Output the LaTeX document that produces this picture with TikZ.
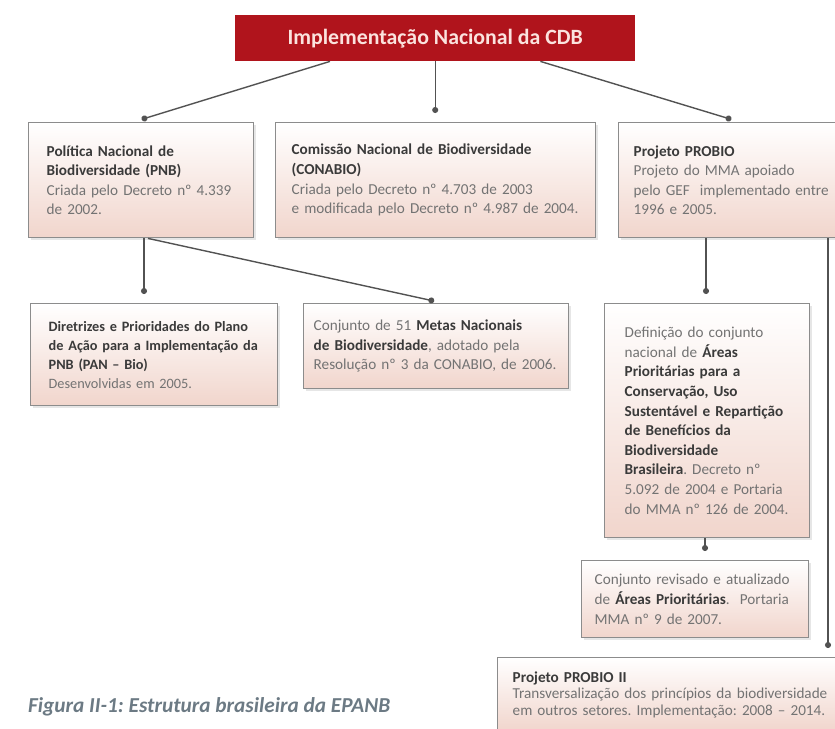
\documentclass[tikz,border=0pt]{standalone}
\usepackage{fontspec}
\setmainfont{Carlito}
\usetikzlibrary{arrows.meta, positioning, shadows}
\frenchspacing

\definecolor{cdbred}{HTML}{B0141C}
\definecolor{cdbtext}{HTML}{FBE3DE}
\definecolor{boxpink}{HTML}{F1D5CC}
\definecolor{boxline}{HTML}{8C8C8C}
\definecolor{txtdark}{HTML}{3A3A3A}
\definecolor{txtgray}{HTML}{737373}
\definecolor{capgray}{HTML}{6C7A84}
\newcommand{\hd}[1]{\textbf{\color{txtdark}#1}}

\begin{document}
\begin{tikzpicture}[x=1pt, y=-1pt,
    infobox/.style 2 args={draw=boxline, line width=1.4pt, anchor=north west,
        top color=white, middle color=white, bottom color=boxpink,
        align=left, inner xsep=18pt, text width=#1, minimum height=#2,
        font=\fontsize{15.2}{19.6}\selectfont, text=txtgray,
        drop shadow={opacity=0.2, shadow xshift=2pt, shadow yshift=-2pt}},
    conn/.style={draw=black!68, line width=1.4pt, -{Circle[length=6pt]}, shorten >=9pt}]

    \useasboundingbox (0,0) rectangle (835,728);

    % Define boxes
    \node[fill=cdbred, text=cdbtext, anchor=north west, minimum width=400pt, minimum height=46pt,
          font=\fontsize{21.8}{26}\selectfont\bfseries] (cdb) at (235,15) {Implementação Nacional da CDB};

    \node[infobox={189pt}{115pt}] (pnb) at (28,122)
        {\hd{Política Nacional de}\\\hd{Biodiversidade (PNB)}\\Criada pelo Decreto nº 4.339\\de 2002.};
    \node[infobox={288pt}{115pt}, inner xsep=16pt] (conabio) at (275,122)
        {\hd{Comissão Nacional de Biodiversidade}\\\hd{(CONABIO)}\\Criada pelo Decreto nº 4.703 de 2003\\e modificada pelo Decreto nº 4.987 de 2004.};
    \node[infobox={250pt}{115pt}, inner xsep=15pt] (probio) at (618,122)
        {\hd{Projeto PROBIO}\\Projeto do MMA apoiado\\pelo GEF\ \ implementado entre\\1996 e 2005.};

    \node[infobox={211pt}{102pt}, font=\fontsize{14.3}{19}\selectfont] (dir) at (30,303)
        {\hd{Diretrizes e Prioridades do Plano}\\\hd{de Ação para a Implementação da}\\\hd{PNB (PAN – Bio)}\\Desenvolvidas em 2005.};
    \node[infobox={245pt}{85pt}, inner xsep=10pt] (metas) at (303,303)
        {Conjunto de 51 \hd{Metas Nacionais}\\\hd{de Biodiversidade}, adotado pela\\Resolução nº 3 da CONABIO, de 2006.};
    \node[infobox={165pt}{234pt}, inner xsep=20pt] (def) at (604,303)
        {Definição do conjunto\\nacional de \hd{Áreas}\\\hd{Prioritárias para a}\\\hd{Conservação, Uso}\\\hd{Sustentável e Repartição}\\\hd{de Benefícios da}\\\hd{Biodiversidade}\\\hd{Brasileira}. Decreto nº\\5.092 de 2004 e Portaria\\do MMA nº 126 de 2004.};
    \node[infobox={201pt}{77pt}, inner xsep=13pt] (rev) at (581,560)
        {Conjunto revisado e atualizado\\de \hd{Áreas Prioritárias}.\ \ Portaria\\MMA nº 9 de 2007.};
    \node[infobox={330pt}{74pt}, inner xsep=15pt, font=\fontsize{15.2}{16.3}\selectfont] (probio2) at (497,657)
        {\hd{Projeto PROBIO II}\\Transversalização dos princípios da biodiversidade\\em outros setores. Implementação: 2008 – 2014.};

    % Caption
    \node[anchor=base west, inner sep=0pt, text=capgray, font=\fontsize{21.3}{25}\selectfont\bfseries\itshape] (caption) at (28,712)
        {Figura II-1: Estrutura brasileira da EPANB};

    % Connectors
    \draw[conn] ([xshift=95pt]cdb.south west) -- ([xshift=105pt]pnb.north west);
    \draw[conn] (cdb.south) -- (cdb.south |- conabio.north);
    \draw[conn] ([xshift=-95pt]cdb.south east) -- ([xshift=122pt]probio.north west);
    \draw[conn] ([xshift=116pt]pnb.south west) -- ([xshift=114pt]dir.north west);
    \draw[conn] ([xshift=120pt]pnb.south west) -- ([xshift=140pt]metas.north west);
    \draw[conn] ([xshift=88pt]probio.south west) -- ([xshift=102pt]def.north west);
    \draw[conn] ([xshift=210pt]probio.south west) -- ([xshift=331pt]probio2.north west);
    \draw[conn] ([xshift=101pt]def.south west) -- ([xshift=124pt]rev.north west);

\end{tikzpicture}
\end{document}
